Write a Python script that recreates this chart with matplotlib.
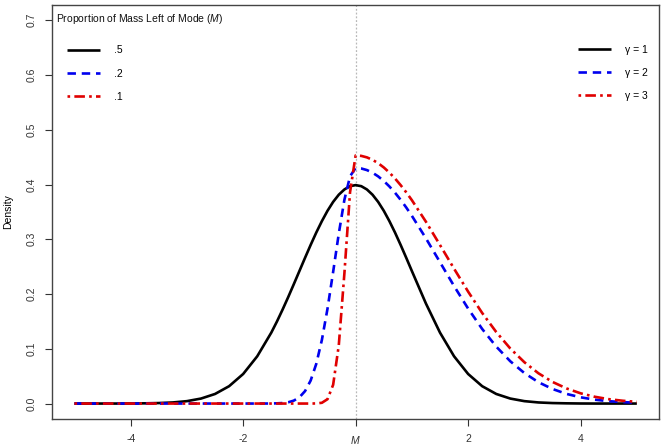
import matplotlib
matplotlib.use("Agg")
import matplotlib.pyplot as plt

plt.rcParams['font.family'] = ['Liberation Sans', 'DejaVu Sans']
plt.rcParams['mathtext.fontset'] = 'custom'
plt.rcParams['mathtext.it'] = 'Liberation Sans:italic'
plt.rcParams['mathtext.rm'] = 'Liberation Sans'

x = [-5, -4.75, -4.5, -4.25, -4, -3.75, -3.5, -3.25, -3, -2.75, -2.5, -2.25, -2, -1.75,
     -1.5, -1.4, -1.3, -1.2, -1.1, -1.0, -0.9, -0.8, -0.7, -0.6, -0.5, -0.4, -0.3, -0.2, -0.1,
     0, 0.1, 0.2, 0.3, 0.4, 0.5, 0.6, 0.7, 0.8, 0.9, 1.0,
     1.25, 1.5, 1.75, 2, 2.25, 2.5, 2.75, 3, 3.25, 3.5, 3.75, 4, 4.25, 4.5, 4.75, 5]

# gamma = 1 (mass left of mode .5)
dens_g1 = [0, 0, 0, 0, 0.0001, 0.0004, 0.0009, 0.0020, 0.0044, 0.0091, 0.0175, 0.0317, 0.0540, 0.0863,
           0.1295, 0.1497, 0.1714, 0.1942, 0.2179, 0.2420, 0.2661, 0.2897, 0.3123, 0.3332, 0.3521, 0.3683, 0.3814, 0.3910, 0.3970,
           0.3989, 0.3970, 0.3910, 0.3814, 0.3683, 0.3521, 0.3332, 0.3123, 0.2897, 0.2661, 0.2420,
           0.1826, 0.1295, 0.0863, 0.0540, 0.0317, 0.0175, 0.0091, 0.0044, 0.0020, 0.0009, 0.0004, 0.0001, 0, 0, 0, 0]

# gamma = 2 (mass left of mode .2)
dens_g2 = [0, 0, 0, 0, 0, 0, 0, 0, 0, 0, 0, 0, 0, 0,
           0.0001, 0.0004, 0.0009, 0.0023, 0.0053, 0.0114, 0.0227, 0.0420, 0.0725, 0.1163, 0.1734, 0.2405, 0.3102, 0.3721, 0.4149,
           0.4303, 0.4293, 0.4264, 0.4216, 0.4149, 0.4065, 0.3965, 0.3850, 0.3721, 0.3580, 0.3428,
           0.3017, 0.2581, 0.2146, 0.1734, 0.1362, 0.1040, 0.0772, 0.0557, 0.0390, 0.0266, 0.0176, 0.0114, 0.0071, 0.0043, 0.0026, 0.0015]

# gamma = 3 (mass left of mode .1)
dens_g3 = [0, 0, 0, 0, 0, 0, 0, 0, 0, 0, 0, 0, 0, 0,
           0, 0, 0, 0, 0, 0, 0, 0, 0.0002, 0.0014, 0.0080, 0.0343, 0.1061, 0.2377, 0.3857,
           0.4532, 0.4523, 0.4496, 0.4451, 0.4390, 0.4312, 0.4218, 0.4110, 0.3989, 0.3857, 0.3714,
           0.3320, 0.2895, 0.2463, 0.2044, 0.1654, 0.1306, 0.1005, 0.0755, 0.0553, 0.0395, 0.0276, 0.0187, 0.0124, 0.0080, 0.0051, 0.0031]

series_labels_left = ['.5', '.2', '.1']
series_labels_right = ['\u03b3 = 1', '\u03b3 = 2', '\u03b3 = 3']
xtick_vals = [-4, -2, 0, 2, 4]
xtick_labels = ['-4', '-2', '$M$', '2', '4']
ytick_vals = [0.0, 0.1, 0.2, 0.3, 0.4, 0.5, 0.6, 0.7]

fig = plt.figure(figsize=(6.66, 4.48), dpi=100)
ax = fig.add_axes([0.078, 0.065, 0.912, 0.924])

ax.axvline(0, color='#b8b8b8', lw=0.9, ls=(0, (1.5, 1.5)), zorder=1)

lw = 1.9
l1, = ax.plot(x, dens_g1, color='black', lw=lw, solid_capstyle='butt', zorder=3)
l2, = ax.plot(x, dens_g2, color='#0000ee', lw=lw, dashes=(3.2, 2.2), zorder=3)
l3, = ax.plot(x, dens_g3, color='#e00000', lw=lw, dashes=(1.0, 1.6, 4.0, 1.6), zorder=3)

ax.set_xlim(-5.4, 5.4)
ax.set_ylim(-0.028, 0.728)
ax.set_xticks(xtick_vals)
ax.set_xticklabels(xtick_labels)
ax.set_yticks(ytick_vals)
ax.set_yticklabels(['%.1f' % v for v in ytick_vals], rotation=90, va='center')
ax.tick_params(direction='out', length=5, width=0.8, labelsize=7.5, colors='#333333', pad=6)
for sp in ax.spines.values():
    sp.set_color('#444444')
    sp.set_linewidth(1.0)
ax.set_ylabel('Density', fontsize=7.5, labelpad=10)

# left legend: title as plain text, entries below it
ax.text(0.006, 0.966, 'Proportion of Mass Left of Mode ($M$)', transform=ax.transAxes,
        fontsize=7.5, ha='left', va='center', color='#111111')
leg1 = ax.legend([l1, l2, l3], series_labels_left, loc='upper left',
                 fontsize=7.5, frameon=False, handlelength=3.2, handletextpad=1.3,
                 labelspacing=1.25, borderaxespad=0, borderpad=0,
                 bbox_to_anchor=(0.0247, 0.902))
ax.add_artist(leg1)

ax.legend([l1, l2, l3], series_labels_right, loc='upper right', fontsize=7.5,
          frameon=False, handlelength=3.2, handletextpad=1.3, labelspacing=1.25,
          bbox_to_anchor=(0.9965, 0.926))

fig.savefig('out.png', dpi=100)
